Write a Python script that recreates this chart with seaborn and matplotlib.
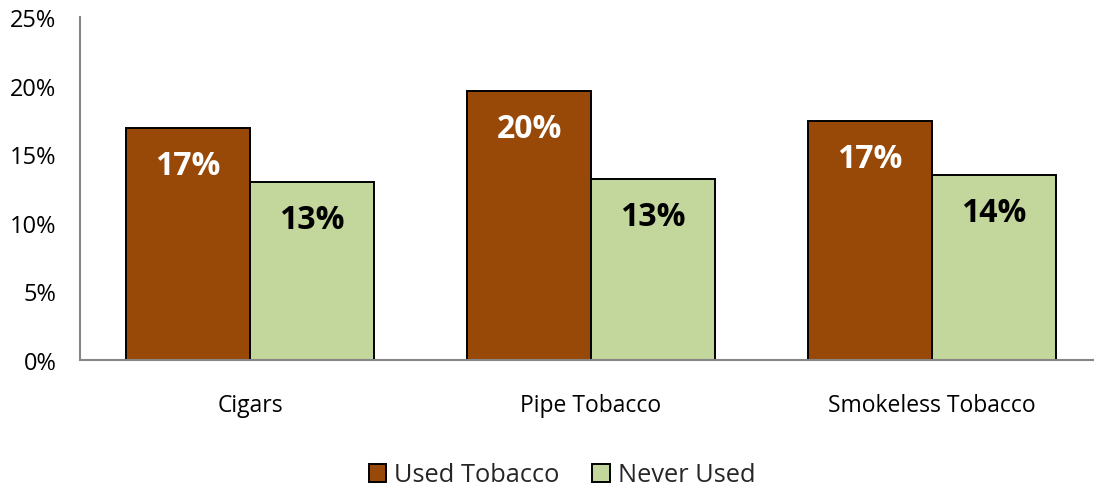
import matplotlib
matplotlib.use("Agg")
import matplotlib.pyplot as plt
import seaborn as sns
import pandas as pd
from matplotlib.patches import Patch

# Data
categories = ["Cigars", "Pipe Tobacco", "Smokeless Tobacco"]
used_tobacco = [16.9, 19.6, 17.4]
never_used = [13.0, 13.2, 13.5]
series_names = ["Used Tobacco", "Never Used"]
colors = ["#984807", "#C3D69B"]
label_colors = ["white", "black"]
y_ticks = [0, 5, 10, 15, 20, 25]

df = pd.DataFrame({
    "category": categories * 2,
    "series": [series_names[0]] * 3 + [series_names[1]] * 3,
    "value": used_tobacco + never_used,
})

sns.set_theme(style="white")
plt.rcParams["font.family"] = ["Open Sans", "DejaVu Sans"]

fig = plt.figure(figsize=(10.94, 4.89), dpi=100)
ax = fig.add_axes([80 / 1094, 128 / 489, 1 - 80 / 1094, 343 / 489])

sns.barplot(data=df, x="category", y="value", hue="series", order=categories,
            hue_order=series_names, palette=colors, width=0.727, saturation=1,
            edgecolor="black", linewidth=1.4, legend=False, ax=ax)

# Value labels inside bars near the top
for container, tc in zip(ax.containers, label_colors):
    labels = [f"{v:.0f}%" for v in container.datavalues]
    for bar, lab in zip(container, labels):
        ax.annotate(lab, (bar.get_x() + bar.get_width() / 2, bar.get_height()),
                    xytext=(0, -27), textcoords="offset points",
                    ha="center", va="center", fontsize=23, fontweight="bold",
                    color=tc)

ax.set_ylim(0, 25)
ax.set_yticks(y_ticks)
ax.set_yticklabels([f"{t}%" for t in y_ticks])
ax.set_xlim(-0.4985, 2.475)
ax.set_xlabel("")
ax.set_ylabel("")
ax.tick_params(axis="y", length=0, pad=17, labelsize=17, colors="black")
ax.tick_params(axis="x", length=0, pad=24, labelsize=16.5, colors="black")

for side in ["top", "right"]:
    ax.spines[side].set_visible(False)
for side in ["left", "bottom"]:
    ax.spines[side].set_color("#868686")
    ax.spines[side].set_linewidth(1.5)

handles = [Patch(facecolor=c, edgecolor="black", linewidth=1.4, label=n)
           for c, n in zip(colors, series_names)]
fig.legend(handles=handles, loc="center", bbox_to_anchor=(562 / 1094, 1 - 476 / 489),
           ncol=2, frameon=False, fontsize=18.3, handlelength=0.7, handleheight=0.7,
           handletextpad=0.3, columnspacing=1.3)

fig.savefig("out.png", dpi=100)
